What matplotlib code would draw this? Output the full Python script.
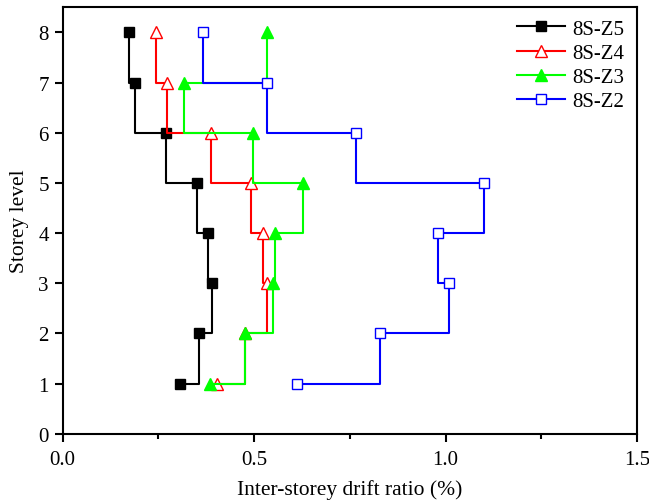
import matplotlib
matplotlib.use("Agg")
import matplotlib.pyplot as plt
from matplotlib.ticker import MultipleLocator, FormatStrFormatter

plt.rcParams['font.family'] = ['Liberation Serif', 'DejaVu Serif']
plt.rcParams['font.size'] = 15

storeys = [1, 2, 3, 4, 5, 6, 7, 8]
z5 = [0.306, 0.356, 0.390, 0.380, 0.350, 0.270, 0.189, 0.173]
z4 = [0.403, 0.477, 0.534, 0.523, 0.493, 0.387, 0.272, 0.243]
z3 = [0.384, 0.477, 0.548, 0.555, 0.627, 0.496, 0.316, 0.534]
z2 = [0.613, 0.830, 1.010, 0.980, 1.100, 0.767, 0.533, 0.366]
labels = ['8S-Z5', '8S-Z4', '8S-Z3', '8S-Z2']

fig = plt.figure(figsize=(6.49, 5.02), dpi=100)
ax = fig.add_axes([0.0966, 0.134, 0.8849, 0.8495])

ax.plot(z5, storeys, drawstyle='steps-post', color='black', lw=1.5,
        marker='s', ms=7, mfc='black', mec='black', mew=1, label=labels[0])
ax.plot(z4, storeys, drawstyle='steps-post', color='#ff0000', lw=1.5,
        marker='^', ms=9, mfc='white', mec='#ff0000', mew=1, label=labels[1])
ax.plot(z3, storeys, drawstyle='steps-post', color='#00ff00', lw=1.5,
        marker='^', ms=9, mfc='#00ff00', mec='#00ff00', mew=1, label=labels[2])
ax.plot(z2, storeys, drawstyle='steps-post', color='#0000ff', lw=1.5,
        marker='s', ms=7, mfc='white', mec='#0000ff', mew=1, label=labels[3])

ax.set_xlim(0, 1.5)
ax.set_ylim(0, 8.5)
ax.xaxis.set_major_locator(MultipleLocator(0.5))
ax.xaxis.set_minor_locator(MultipleLocator(0.25))
ax.yaxis.set_major_locator(MultipleLocator(1))
ax.xaxis.set_major_formatter(FormatStrFormatter('%.1f'))

for s in ax.spines.values():
    s.set_linewidth(1.5)
ax.tick_params(axis='both', which='major', direction='out', length=6, width=1.5,
               labelsize=15, top=False, right=False)
ax.tick_params(axis='x', which='major', pad=6)
ax.tick_params(axis='y', which='major', pad=4)
ax.tick_params(axis='x', which='minor', direction='out', length=3.5, width=1.5)

ax.set_xlabel('Inter-storey drift ratio (%)', fontsize=15.5)
ax.set_ylabel('Storey level', fontsize=15.5)
ax.xaxis.set_label_coords(0.5, -0.106)
ax.yaxis.set_label_coords(-0.058, 0.5)

ax.legend(loc='upper left', bbox_to_anchor=(517 / 649, 1 - 20.2 / 502),
          bbox_transform=fig.transFigure, frameon=False, fontsize=15,
          handlelength=2.3, handletextpad=0.33, labelspacing=0.22,
          borderpad=0, borderaxespad=0)

fig.savefig('out.png', dpi=100)
